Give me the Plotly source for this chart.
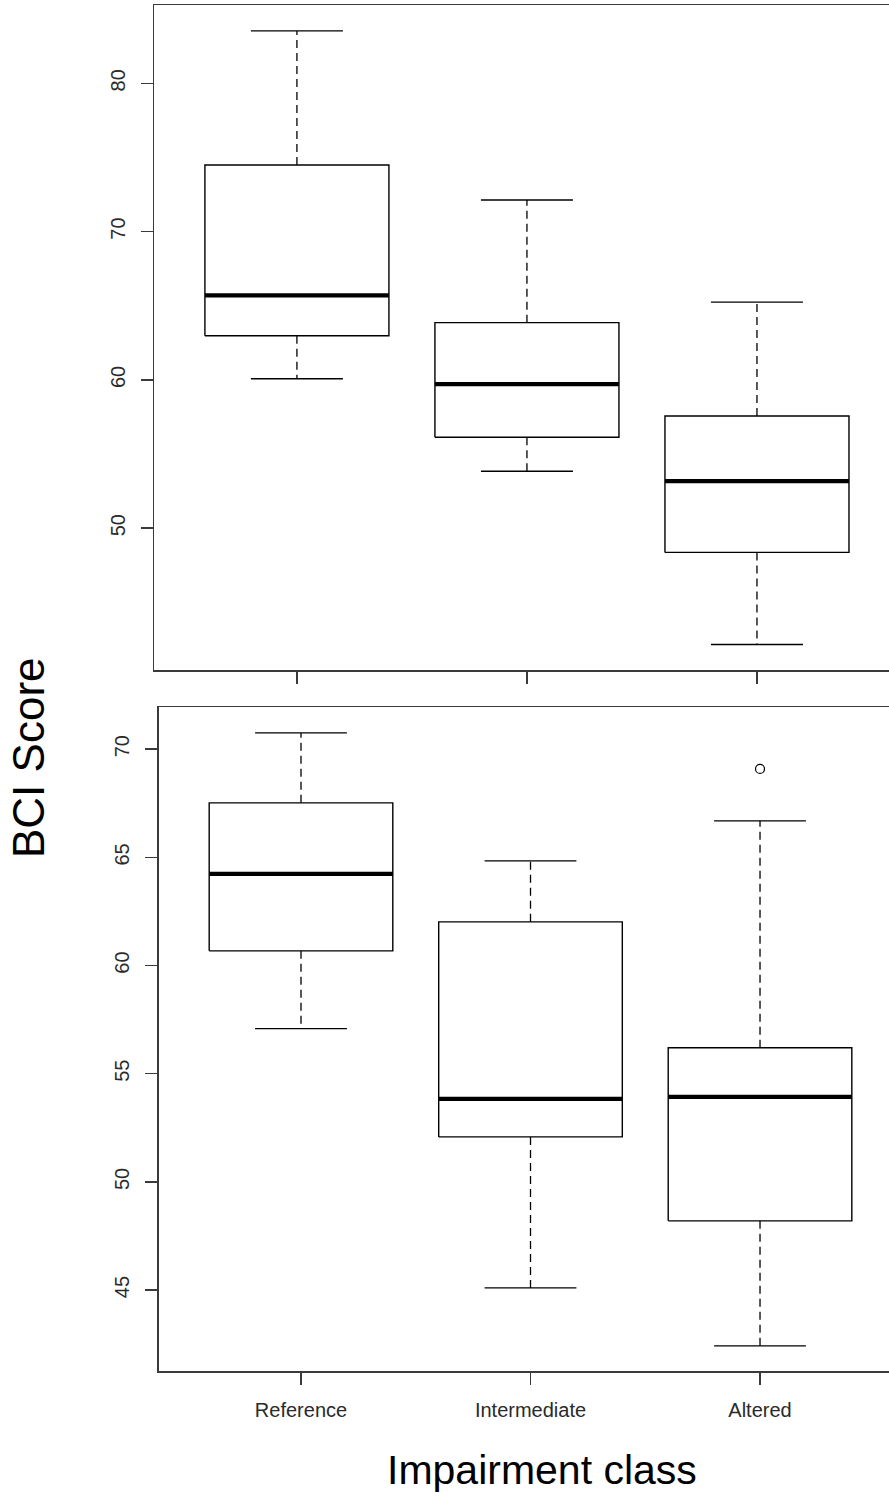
import plotly.graph_objects as go

W, H = 889, 1496

categories = ["Reference", "Intermediate", "Altered"]

# Top panel (five-number summaries)
top_lower = [60.08, 53.84, 42.16]
top_q1 = [62.98, 56.13, 48.37]
top_median = [65.70, 59.72, 53.18]
top_q3 = [74.49, 63.86, 57.57]
top_upper = [83.53, 72.13, 65.25]
top_yticks = [50, 60, 70, 80]

# Bottom panel
bot_lower = [57.08, 45.10, 42.42]
bot_q1 = [60.68, 52.08, 48.20]
bot_median = [64.24, 53.84, 53.93]
bot_q3 = [67.52, 62.02, 56.20]
bot_upper = [70.75, 64.84, 66.69]
bot_outlier_cat = ["Altered"]
bot_outlier_val = [69.09]
bot_yticks = [45, 50, 55, 60, 65, 70]

FONT = "Liberation Sans, Arial, Helvetica, sans-serif"
AXC = "#3a3a3a"

fig = go.Figure()


def add_panel(xa, ya, lower, q1, med, q3, upper):
    bw, cw = 0.4, 0.2
    bx, by, mx, my, wx, wy, cx, cy = [], [], [], [], [], [], [], []
    for i in range(len(categories)):
        p = i + 1
        bx += [p - bw, p + bw, p + bw, p - bw, p - bw, None]
        by += [q1[i], q1[i], q3[i], q3[i], q1[i], None]
        mx += [p - bw, p + bw, None]
        my += [med[i], med[i], None]
        wx += [p, p, None, p, p, None]
        wy += [q3[i], upper[i], None, q1[i], lower[i], None]
        cx += [p - cw, p + cw, None, p - cw, p + cw, None]
        cy += [upper[i], upper[i], None, lower[i], lower[i], None]
    common = dict(mode="lines", xaxis=xa, yaxis=ya, showlegend=False,
                  hoverinfo="skip")
    fig.add_trace(go.Scatter(x=wx, y=wy, line=dict(color="black", width=1.3,
                                                   dash="8px,5px"), **common))
    fig.add_trace(go.Scatter(x=cx, y=cy, line=dict(color="black", width=1.3), **common))
    fig.add_trace(go.Scatter(x=bx, y=by, line=dict(color="black", width=1.4), **common))
    fig.add_trace(go.Scatter(x=mx, y=my, line=dict(color="black", width=4.2), **common))


add_panel("x", "y", top_lower, top_q1, top_median, top_q3, top_upper)
add_panel("x2", "y2", bot_lower, bot_q1, bot_median, bot_q3, bot_upper)

out_x = [categories.index(c) + 1 for c in bot_outlier_cat]
fig.add_trace(go.Scatter(x=out_x, y=bot_outlier_val, mode="markers", xaxis="x2",
                         yaxis="y2", showlegend=False, hoverinfo="skip",
                         marker=dict(symbol="circle-open", size=9,
                                     line=dict(color="black", width=1.2),
                                     color="black")))

axis_common = dict(showgrid=False, zeroline=False, showline=True, linecolor=AXC,
                   linewidth=1.5, ticks="outside", ticklen=12, tickwidth=1.5,
                   tickcolor=AXC, ticklabelstandoff=8,
                   tickfont=dict(family=FONT, size=20, color="#2a2a2a"))

fig.update_layout(
    width=W, height=H,
    margin=dict(l=0, r=0, t=0, b=0),
    paper_bgcolor="white", plot_bgcolor="white",
    xaxis=dict(domain=[154.3 / W, 1.0], range=[0.38, 3.574], anchor="y",
               tickvals=[1, 2, 3], ticktext=["", "", ""], mirror=True,
               **axis_common),
    yaxis=dict(domain=[1 - 670 / H, 1 - 5.3 / H], range=[40.44, 85.26], anchor="x",
               tickvals=top_yticks, tickangle=-90, mirror=False, **axis_common),
    xaxis2=dict(domain=[158.7 / W, 1.0], range=[0.38, 3.562], anchor="y2",
                tickvals=[1, 2, 3], ticktext=categories, mirror=True,
                **axis_common),
    yaxis2=dict(domain=[1 - 1371 / H, 1 - 707 / H], range=[41.26, 71.95], anchor="x2",
                tickvals=bot_yticks, tickangle=-90, mirror=False, **axis_common),
    annotations=[
        dict(text="BCI Score", x=28 / W, y=1 - 758 / H, xref="paper", yref="paper",
             showarrow=False, textangle=-90, xanchor="center", yanchor="middle",
             font=dict(family=FONT, size=44, color="black")),
        dict(text="Impairment class", x=542 / W, y=1 - 1470 / H, xref="paper",
             yref="paper", showarrow=False, xanchor="center", yanchor="middle",
             font=dict(family=FONT, size=41, color="black")),
    ],
)

fig.write_html("out.html",
               config={"displayModeBar": False, "staticPlot": True},
               post_script="document.body.style.margin='0px';"
                           "document.body.style.overflow='hidden';")
